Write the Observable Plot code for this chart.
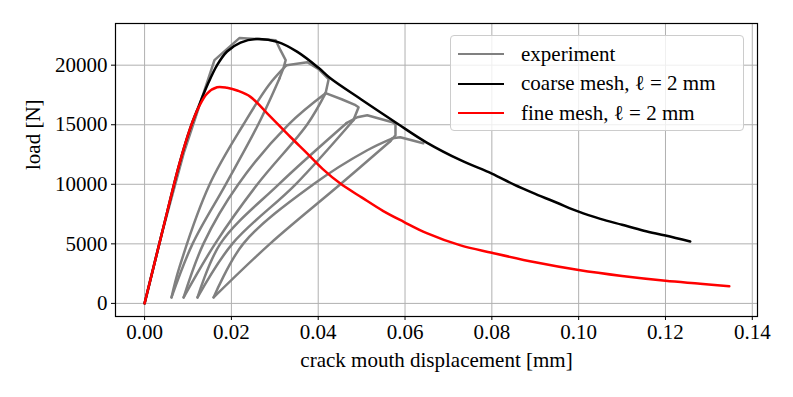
<!DOCTYPE html>
<html><head><meta charset="utf-8">
<script src="https://cdn.jsdelivr.net/npm/d3@7"></script>
<script src="https://cdn.jsdelivr.net/npm/@observablehq/plot@0.6"></script>
<style>
body{margin:0;background:#fff}
#wrap{position:relative;width:793px;height:397px;font-family:"Liberation Serif",serif}
#legend{position:absolute;left:450px;top:35px;width:294px;height:96px;border:1px solid #cccccc;border-radius:4px;background:rgba(255,255,255,0.8);box-sizing:border-box}
.row{position:absolute;left:0;height:30px;display:flex;align-items:center;font-size:21px;white-space:nowrap}
.swatch{position:absolute;left:7px;width:46px;height:0;border-top:2.5px solid}
.lab{position:absolute;left:70px}
</style>
</head><body><div id="wrap"></div>
<script>
// experiment (load path with unloading/reloading loops)
const expX = [0, 0.0040, 0.0090, 0.0129, 0.0161, 0.0219, 0.0302, 0.0313, 0.0325, 0.0320,
  0.0311, 0.0262, 0.0187, 0.0111, 0.0062,
  0.0080, 0.0150, 0.0228, 0.0286, 0.0327,
  0.0375, 0.0401, 0.0424,
  0.0417, 0.0375, 0.0260, 0.0163, 0.0090,
  0.0136, 0.0216, 0.0332, 0.0417,
  0.0454, 0.0486, 0.0493,
  0.0481, 0.0348, 0.0203, 0.0122,
  0.0175, 0.0309, 0.0465, 0.0490, 0.0513, 0.0571, 0.0578,
  0.0578, 0.0566, 0.0451, 0.0290, 0.0159,
  0.0228, 0.0389, 0.0513, 0.0571, 0.0589, 0.0642];
const expY = [0, 5900, 12600, 16900, 20420, 22290, 22100, 21260, 20420, 19750,
  18910, 15040, 10000, 5040, 500,
  3000, 10000, 15040, 18320, 20000,
  20250, 19660, 18820,
  17650, 15040, 10000, 5040, 500,
  5040, 10000, 15040, 17650,
  17140, 16640, 16470,
  15380, 10000, 5040, 500,
  5040, 10000, 15130, 15630, 15800, 15210, 15040,
  14120, 13610, 10000, 5040, 500,
  5040, 10000, 12860, 13860, 13950, 13440];
// index ranges of the experiment path that are smooth unloading/reloading branches
const smoothRanges = [[10, 14], [14, 19], [23, 27], [27, 31], [35, 38], [38, 41], [47, 50], [50, 54]];
// coarse mesh
const coarseX = [0, 0.004, 0.008, 0.0105, 0.0124, 0.0145, 0.0167, 0.019, 0.0221, 0.0259, 0.0306, 0.0352, 0.040, 0.0428, 0.050, 0.0582, 0.065, 0.0728, 0.080, 0.085, 0.090, 0.095, 0.100, 0.105, 0.110, 0.115, 0.120, 0.1257];
const coarseY = [0, 5900, 11700, 14700, 16500, 18350, 20000, 21150, 21900, 22200, 21960, 21120, 19800, 18900, 17100, 15100, 13500, 12020, 10900, 10000, 9200, 8450, 7700, 7100, 6600, 6100, 5700, 5200];
// fine mesh
const fineX = [0, 0.004, 0.008, 0.0105, 0.0125, 0.0144, 0.0167, 0.0190, 0.0215, 0.0244, 0.0283, 0.0336, 0.0375, 0.0410, 0.0451, 0.0500, 0.0550, 0.0597, 0.0650, 0.0728, 0.0800, 0.0900, 0.1000, 0.1100, 0.1200, 0.1280, 0.1347];
const fineY = [0, 5900, 11700, 14700, 16500, 17620, 18150, 18100, 17850, 17340, 15940, 13970, 12580, 11300, 10060, 8900, 7750, 6850, 5900, 4870, 4250, 3450, 2800, 2300, 1900, 1650, 1430];

const xTicks = [0, 0.02, 0.04, 0.06, 0.08, 0.10, 0.12, 0.14];
const yTicks = [0, 5000, 10000, 15000, 20000];
const seriesNames = ["experiment", "coarse mesh, ℓ = 2 mm", "fine mesh, ℓ = 2 mm"];
const seriesColors = ["#808080", "#000000", "#ff0000"];
const xLabel = "crack mouth displacement [mm]";
const yLabel = "load [N]";

const toRows = (xs, ys) => xs.map((x, i) => ({x, y: ys[i]}));
const coarse = toRows(coarseX, coarseY), fine = toRows(fineX, fineY);

// split experiment path into straight and smooth pieces (sharing junction points)
const expSmooth = [], expStraight = [];
let cursor = 0, segId = 0;
const pushRange = (arr, a, b) => { for (let i = a; i <= b; i++) arr.push({x: expX[i], y: expY[i], seg: segId}); segId++; };
for (const [a, b] of smoothRanges) {
  if (a > cursor) pushRange(expStraight, cursor, a);
  pushRange(expSmooth, a, b);
  cursor = b;
}
if (cursor < expX.length - 1) pushRange(expStraight, cursor, expX.length - 1);

const plot = Plot.plot({
  width: 793, height: 397,
  marginLeft: 115, marginRight: 36, marginTop: 23, marginBottom: 81,
  style: {fontFamily: "'Liberation Serif', serif", fontSize: "21px", color: "black", background: "white"},
  x: {domain: [-0.0067, 0.1412]},
  y: {domain: [-1100, 23500]},
  marks: [
    Plot.gridX(xTicks, {stroke: "#b0b0b0", strokeOpacity: 1, strokeWidth: 1}),
    Plot.gridY(yTicks, {stroke: "#b0b0b0", strokeOpacity: 1, strokeWidth: 1}),
    Plot.axisX(xTicks, {tickSize: 4, tickPadding: 4, tickFormat: d3.format(".2f"), label: null, fontSize: 21}),
    Plot.axisY(yTicks, {tickSize: 4, tickPadding: 4, tickFormat: d => String(d), label: null, fontSize: 21}),
    Plot.line(expStraight, {x: "x", y: "y", z: "seg", stroke: seriesColors[0], strokeWidth: 2.5, strokeLinejoin: "round"}),
    Plot.line(expSmooth, {x: "x", y: "y", z: "seg", stroke: seriesColors[0], strokeWidth: 2.5, strokeLinejoin: "round", curve: "catmull-rom"}),
    Plot.line(coarse, {x: "x", y: "y", stroke: seriesColors[1], strokeWidth: 2.5, curve: "catmull-rom"}),
    Plot.line(fine, {x: "x", y: "y", stroke: seriesColors[2], strokeWidth: 2.5, curve: "catmull-rom"}),
    Plot.frame({stroke: "black", strokeWidth: 1.2}),
    Plot.text([xLabel], {frameAnchor: "bottom", dy: 50, fontSize: 21, fill: "black"}),
    Plot.text([yLabel], {frameAnchor: "left", rotate: -90, dx: -82, fontSize: 21, fill: "black"})
  ]
});
const wrap = document.getElementById("wrap");
wrap.appendChild(plot);

const leg = document.createElement("div");
leg.id = "legend";
seriesNames.forEach((name, i) => {
  const row = document.createElement("div");
  row.className = "row";
  row.style.top = (3 + i * 29.5) + "px";
  row.style.width = "290px";
  const sw = document.createElement("div");
  sw.className = "swatch";
  sw.style.borderTopColor = seriesColors[i];
  const lab = document.createElement("div");
  lab.className = "lab";
  lab.textContent = name;
  row.appendChild(sw); row.appendChild(lab);
  leg.appendChild(row);
});
wrap.appendChild(leg);
</script>
</body></html>
